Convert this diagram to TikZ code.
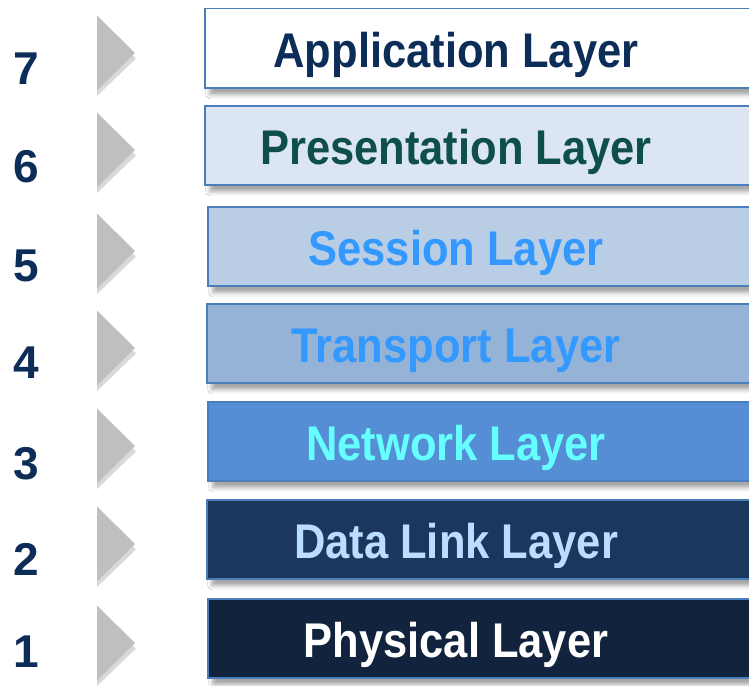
\documentclass[tikz,border=0pt]{standalone}
\usepackage{fontspec}
\setmainfont{Liberation Sans}
\usetikzlibrary{shadows.blur}

\definecolor{edgeblue}{HTML}{4A7EBB}
\definecolor{navy}{HTML}{0C2D57}
\definecolor{arrowgray}{HTML}{BFBFBF}
\definecolor{arrowshade}{HTML}{D9D9D9}
\definecolor{fillA}{HTML}{FFFFFF}
\definecolor{fillB}{HTML}{DCE6F2}
\definecolor{fillC}{HTML}{B9CDE5}
\definecolor{fillD}{HTML}{95B3D7}
\definecolor{fillE}{HTML}{558ED5}
\definecolor{fillF}{HTML}{1C375E}
\definecolor{fillG}{HTML}{12233D}
\definecolor{textA}{HTML}{0C2D57}
\definecolor{textB}{HTML}{0E4F4C}
\definecolor{textC}{HTML}{3399FF}
\definecolor{textD}{HTML}{3399FF}
\definecolor{textE}{HTML}{66FFFF}
\definecolor{textF}{HTML}{BBDDFF}
\definecolor{textG}{HTML}{FFFFFF}

\tikzset{
  layerbox/.style={draw=edgeblue, line width=1.5pt, inner sep=0pt,
    minimum width=600pt, minimum height=79pt, anchor=north west,
    blur shadow={shadow xshift=5pt, shadow yshift=-7pt,
      shadow blur radius=4pt, shadow opacity=35}},
  layertext/.style={anchor=base, font=\bfseries\fontsize{43.5}{43.5}\selectfont,
    inner sep=0pt},
  layernum/.style={anchor=base, text=navy, inner sep=0pt,
    font=\bfseries\fontsize{46}{46}\selectfont},
}
% captions are set slightly taller than their natural shape
\newcommand{\tallcap}[1]{\scalebox{1}[1.12]{#1}}

\begin{document}
\begin{tikzpicture}[x=1pt, y=-1pt]
  \useasboundingbox (0,0) rectangle (749,685);
  \fill[white] (0,0) rectangle (749,685);
  \clip (0,0) rectangle (749,685);

  % one row per OSI layer: number, name, box top, box left, colour key, number baseline
  \foreach \n/\lname/\t/\l/\c/\nb in {
      7/Application Layer/8/204/A/84,
      6/Presentation Layer/105/204/B/182,
      5/Session Layer/206/207/C/281,
      4/Transport Layer/303/206/D/378,
      3/Network Layer/401/207/E/479,
      2/Data Link Layer/499/206/F/575,
      1/Physical Layer/598/207/G/667} {
    % pointer triangle with its lighter drop
    \fill[arrowshade] (97,\t+13) -- (136,\t+50.5) -- (97,\t+88) -- cycle;
    \fill[arrowgray] (97,\t+7.5) -- (135,\t+45) -- (97,\t+82.5) -- cycle;
    % layer number
    \node[layernum] (num\n) at (26,\nb) {\n};
    % layer box and its caption
    \node[layerbox, fill=fill\c] (box\n) at (\l,\t) {};
    \node[layertext, text=text\c] (lbl\n) at (456,\t+59) {\tallcap{\lname}};
  }
\end{tikzpicture}
\end{document}
